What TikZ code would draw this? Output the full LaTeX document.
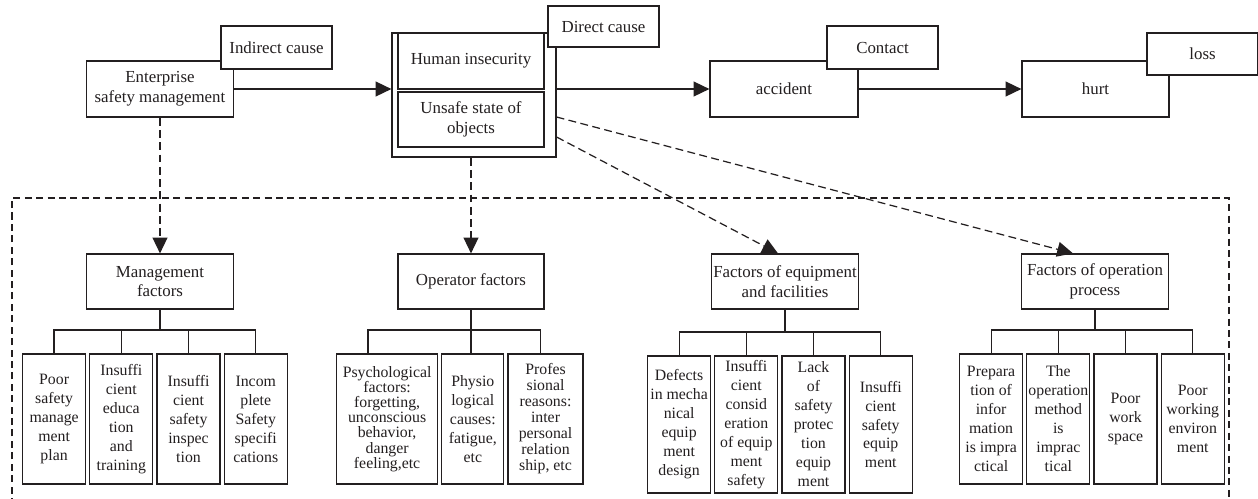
\documentclass[tikz,border=0pt]{standalone}
\usepackage{fontspec}
\setmainfont{Liberation Serif}
\usetikzlibrary{positioning,arrows.meta}
\definecolor{Ink}{HTML}{231F20}

\begin{document}
\begin{tikzpicture}[x=0.02cm, y=-0.02cm, every node/.style={font=\fontsize{9.6}{11.2}\selectfont, text=Ink}]
    \tikzstyle{box}=[draw=Ink, fill=white, line width=0.7pt, align=center, inner sep=0.5pt, minimum width=2.94cm, minimum height=1.12cm]
    \tikzstyle{tag}=[box, minimum width=2.22cm, minimum height=0.86cm]
    \tikzstyle{leaf}=[box, minimum width=1.26cm, minimum height=2.6cm, font=\fontsize{9}{10.8}\selectfont]
    \tikzstyle{link}=[draw=Ink, line width=0.7pt]
    \tikzstyle{arr}=[link, -{Triangle[length=9pt, width=8.5pt]}]
    \tikzstyle{darr}=[arr, dash pattern=on 4.5pt off 2.5pt]
    \useasboundingbox (0,0) rectangle (1258,498);

    % dashed frame round the factors
    \draw[link, dash pattern=on 4pt off 2.5pt] (12,505) -- (12,198) -- (1229,198) -- (1229,505);

    % chain of causes
    \node[box] (esm) at (160,89) {Enterprise\\safety management};
    \node[box, minimum width=3.28cm, minimum height=2.48cm] (grp) at (474,95) {};
    \node[box, minimum width=2.92cm] (hum) at (471,61) {Human insecurity};
    \node[box, minimum width=2.92cm, minimum height=1.1cm] (uns) at (471,119.5) {Unsafe state of\\objects};
    \node[box, minimum width=2.96cm] (acc) at (784,89) {accident};
    \node[box] (hurt) at (1095.5,89) {hurt};
    \node[tag] (indc) at (276.5,47.5) {Indirect cause};
    \node[tag, minimum height=0.82cm] (dirc) at (603.5,26.5) {Direct cause};
    \node[tag] (cont) at (882.5,47.5) {Contact};
    \node[tag, minimum height=0.84cm] (loss) at (1202.5,54) {loss};

    \draw[arr] (esm.east) -- (esm.east -| grp.west);
    \draw[arr] (acc.west -| grp.east) -- (acc.west);
    \draw[arr] (acc.east) -- (hurt.west);

    % factor groups
    \node[box, minimum height=1.1cm] (mgf) at (160,281.5) {Management\\factors};
    \node[box, minimum width=2.92cm, minimum height=1.1cm] (opf) at (471,281.5) {Operator factors};
    \node[box, minimum height=1.1cm] (eqf) at (785,281.5) {Factors of equipment\\and facilities};
    \node[box, minimum height=1.1cm] (prf) at (1095,281.5) {Factors of operation\\process};

    \draw[darr] (esm.south) -- (mgf.north);
    \draw[darr] (opf.north |- grp.south) -- (opf.north);
    \draw[darr] ([yshift=-0.84cm]grp.east) -- ([xshift=-0.14cm]eqf.north);
    \draw[darr] ([yshift=-0.44cm]grp.east) -- ([xshift=-0.44cm]prf.north);

    % management
    \node[leaf, anchor=west] (m1) at (22,419) {Poor\\safety\\manage\\ment\\plan};
    \node[leaf, right=0.06cm of m1] (m2) {Insuffi\\cient\\educa\\tion\\and\\training};
    \node[leaf, right=0.06cm of m2] (m3) {Insuffi\\cient\\safety\\inspec\\tion};
    \node[leaf, right=0.06cm of m3] (m4) {Incom\\plete\\Safety\\specifi\\cations};

    % operator
    \node[leaf, anchor=west, minimum width=2.02cm, font=\fontsize{9}{8.6}\selectfont] (o1) at (336,419) {Psychological\\factors:\\forgetting,\\unconscious\\behavior,\\danger\\feeling,etc};
    \node[leaf, right=0.06cm of o1, minimum width=1.24cm] (o2) {Physio\\logical\\causes:\\fatigue,\\etc};
    \node[leaf, right=0.06cm of o2, minimum width=1.5cm, font=\fontsize{9}{9.1}\selectfont] (o3) {Profes\\sional\\reasons:\\inter\\personal\\relation\\ship, etc};

    % equipment
    \node[leaf, anchor=west, minimum height=2.74cm] (e1) at (647,424.5) {Defects\\in mecha\\nical\\equip\\ment\\design};
    \node[leaf, right=0.06cm of e1, minimum height=2.74cm] (e2) {Insuffi\\cient\\consid\\eration\\of equip\\ment\\safety};
    \node[leaf, right=0.06cm of e2, minimum height=2.74cm] (e3) {Lack\\of\\safety\\protec\\tion\\equip\\ment};
    \node[leaf, right=0.06cm of e3, minimum height=2.74cm] (e4) {Insuffi\\cient\\safety\\equip\\ment};

    % operation process
    \node[leaf, anchor=west] (p1) at (959,419) {Prepara\\tion of\\infor\\mation\\is impra\\ctical};
    \node[leaf, right=0.06cm of p1] (p2) {The\\operation\\method\\is\\imprac\\tical};
    \node[leaf, right=0.06cm of p2] (p3) {Poor\\work\\space};
    \node[leaf, right=0.06cm of p3] (p4) {Poor\\working\\environ\\ment};

    % brackets
    \coordinate (bar) at (0,330);
    \coordinate (ebar) at (0,332);
    \coordinate (o1t) at ([xshift=-0.38cm]o1.north);
    \coordinate (o3t) at ([xshift=-0.1cm]o3.north);
    \draw[link] (mgf.south) -- (mgf.south |- bar);
    \draw[link] (m1.north) |- (m4.north |- bar) -- (m4.north);
    \foreach \k in {m2,m3} \draw[link] (\k.north) -- (\k.north |- bar);
    \draw[link] (opf.south) -- (opf.south |- o2.north);
    \draw[link] (o1t) |- (o3t |- bar) -- (o3t);
    \draw[link] (eqf.south) -- (eqf.south |- ebar);
    \draw[link] (e1.north) |- (e4.north |- ebar) -- (e4.north);
    \foreach \k in {e2,e3} \draw[link] (\k.north) -- (\k.north |- ebar);
    \draw[link] (prf.south) -- (prf.south |- bar);
    \draw[link] (p1.north) |- (p4.north |- bar) -- (p4.north);
    \foreach \k in {p2,p3} \draw[link] (\k.north) -- (\k.north |- bar);
\end{tikzpicture}
\end{document}
